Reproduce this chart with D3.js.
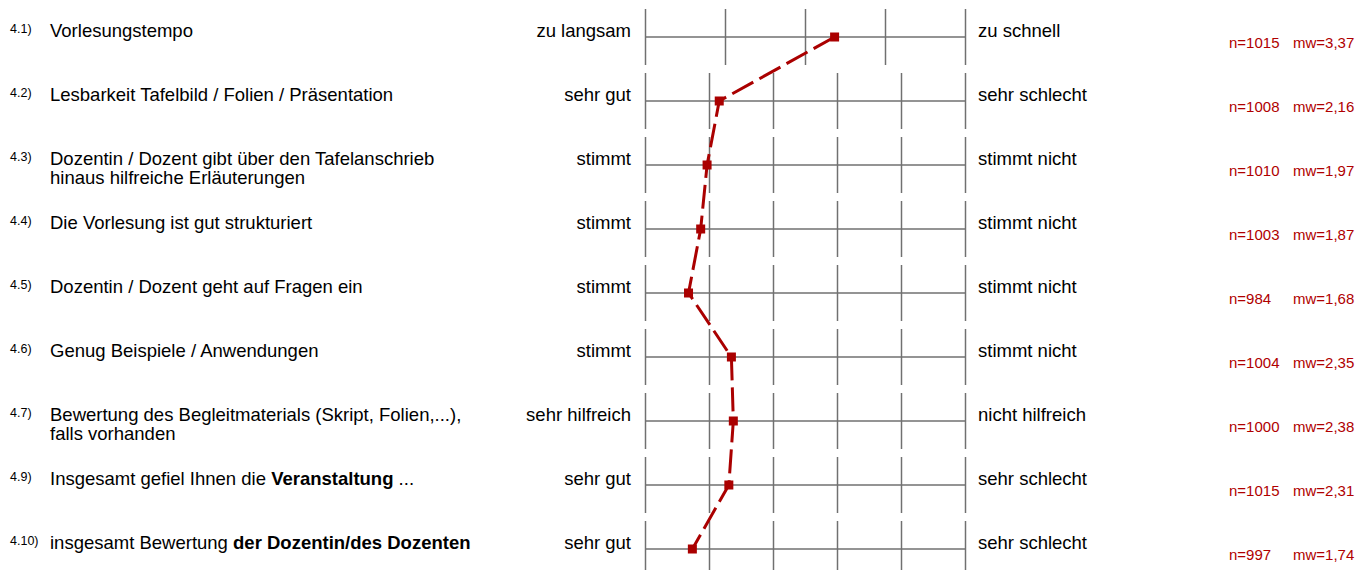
<!DOCTYPE html>
<html>
<head>
<meta charset="utf-8">
<script src="https://cdn.jsdelivr.net/npm/d3@7"></script>
<style>
  html, body { margin: 0; padding: 0; background: #fff; }
  svg { display: block; font-family: "Liberation Sans", Arial, Helvetica, sans-serif; }
</style>
</head>
<body>
<svg id="chart" width="1355" height="570"></svg>
<script>
// ---- data ----
const itemIds = ["4.1)", "4.2)", "4.3)", "4.4)", "4.5)", "4.6)", "4.7)", "4.9)", "4.10)"];
const questions = [
  ["Vorlesungstempo"],
  ["Lesbarkeit Tafelbild / Folien / Präsentation"],
  ["Dozentin / Dozent gibt über den Tafelanschrieb", "hinaus hilfreiche Erläuterungen"],
  ["Die Vorlesung ist gut strukturiert"],
  ["Dozentin / Dozent geht auf Fragen ein"],
  ["Genug Beispiele / Anwendungen"],
  ["Bewertung des Begleitmaterials (Skript, Folien,...),", "falls vorhanden"],
  ["Insgesamt gefiel Ihnen die *Veranstaltung* ..."],
  ["insgesamt Bewertung *der Dozentin/des Dozenten*"]
];
const leftPoles = ["zu langsam", "sehr gut", "stimmt", "stimmt", "stimmt", "stimmt", "sehr hilfreich", "sehr gut", "sehr gut"];
const rightPoles = ["zu schnell", "sehr schlecht", "stimmt nicht", "stimmt nicht", "stimmt nicht", "stimmt nicht", "nicht hilfreich", "sehr schlecht", "sehr schlecht"];
const scaleSteps = [5, 6, 6, 6, 6, 6, 6, 6, 6];
const nValues = [1015, 1008, 1010, 1003, 984, 1004, 1000, 1015, 997];
const means = [3.37, 2.16, 1.97, 1.87, 1.68, 2.35, 2.38, 2.31, 1.74];

// ---- layout ----
const svg = d3.select("#chart");
const red = "#aa0000";
const gridColor = "#707070";
const ink = "#000";

const rowScale = d3.scalePoint()
  .domain(d3.range(itemIds.length))
  .range([37, 549]);

const xScales = scaleSteps.map(s => d3.scaleLinear().domain([1, s]).range([645, 965]));

const rows = svg.selectAll("g.row")
  .data(itemIds.map((id, i) => ({ i, id })))
  .join("g")
  .attr("class", "row")
  .attr("transform", d => `translate(0,${rowScale(d.i)})`);

// item numbers
rows.append("text")
  .attr("x", 10).attr("y", -4)
  .attr("font-size", 12.5).attr("fill", ink)
  .text(d => d.id);

// questions (with bold segments marked *...*)
rows.each(function(d) {
  const g = d3.select(this);
  questions[d.i].forEach((line, li) => {
    const t = g.append("text")
      .attr("x", 50).attr("y", li * 19)
      .attr("font-size", 18.5).attr("fill", ink);
    line.split("*").forEach((seg, si) => {
      if (!seg) return;
      t.append("tspan").attr("font-weight", si % 2 ? "bold" : "normal").text(seg);
    });
  });
});

// poles
rows.append("text")
  .attr("x", 631).attr("y", 0)
  .attr("text-anchor", "end")
  .attr("font-size", 18.5).attr("fill", ink)
  .text(d => leftPoles[d.i]);
rows.append("text")
  .attr("x", 978).attr("y", 0)
  .attr("font-size", 18.5).attr("fill", ink)
  .text(d => rightPoles[d.i]);

// grid: axis ticks as vertical lines + horizontal baseline
rows.each(function(d) {
  const g = d3.select(this).append("g").attr("class", "grid");
  const x = xScales[d.i];
  const axis = d3.axisBottom(x)
    .tickValues(d3.range(1, scaleSteps[d.i] + 1))
    .tickSize(56).tickFormat("");
  g.attr("transform", "translate(0,-28)").call(axis);
  g.select(".domain").remove();
  g.selectAll(".tick line").attr("stroke", gridColor).attr("stroke-width", 1.5);
  d3.select(this).append("line")
    .attr("x1", x.range()[0]).attr("x2", x.range()[1])
    .attr("y1", 0).attr("y2", 0)
    .attr("stroke", gridColor).attr("stroke-width", 1.5);
});

// stats
rows.append("text")
  .attr("x", 1229).attr("y", 11)
  .attr("font-size", 15).attr("fill", "#b00000")
  .text(d => "n=" + nValues[d.i]);
rows.append("text")
  .attr("x", 1293).attr("y", 11)
  .attr("font-size", 15).attr("fill", "#b00000")
  .text(d => "mw=" + means[d.i].toFixed(2).replace(".", ","));

// profile line
const pts = means.map((m, i) => [xScales[i](m), rowScale(i)]);
svg.append("path")
  .attr("d", d3.line()(pts))
  .attr("fill", "none")
  .attr("stroke", red)
  .attr("stroke-width", 3)
  .attr("stroke-dasharray", "24,7");

svg.selectAll("rect.mk")
  .data(pts)
  .join("rect")
  .attr("class", "mk")
  .attr("x", d => d[0] - 4.5).attr("y", d => d[1] - 4.5)
  .attr("width", 9).attr("height", 9)
  .attr("fill", red);
</script>
</body>
</html>
